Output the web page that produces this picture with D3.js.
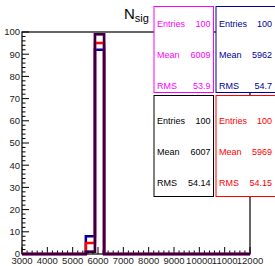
<!DOCTYPE html>
<html>
<head>
<meta charset="utf-8">
<script src="https://cdn.jsdelivr.net/npm/d3@7"></script>
<style>
  body { margin: 0; background: #fff; }
  svg { display: block; font-family: "Liberation Sans", Arial, sans-serif; }
</style>
</head>
<body>
<svg width="275" height="266"></svg>
<script>
let width = 275;
let height = 266;
let margin = { top: 32, right: 25, bottom: 12, left: 22 };

// histogram: 25 bins from 3000 to 12000
let xMin = 3000, xMax = 12000, nBins = 25;
let magentaCounts = [0,0,0,0,0,0,0,1,99,0,0,0,0,0,0,0,0,0,0,0,0,0,0,0,0];
let blackCounts   = [0,0,0,0,0,0,0,1,99,0,0,0,0,0,0,0,0,0,0,0,0,0,0,0,0];
let blueCounts    = [0,0,0,0,0,0,0,8,92,0,0,0,0,0,0,0,0,0,0,0,0,0,0,0,0];
let redCounts     = [0,0,0,0,0,0,0,5,95,0,0,0,0,0,0,0,0,0,0,0,0,0,0,0,0];

let xTicks = [3000,4000,5000,6000,7000,8000,9000,10000,11000,12000];
let yTicks = [0,10,20,30,40,50,60,70,80,90,100];

let statLabels = ["Entries", "Mean", "RMS"];
let magentaStats = ["100", "6009", "53.9"];
let blueStats    = ["100", "5962", "54.7"];
let blackStats   = ["100", "6007", "54.14"];
let redStats     = ["100", "5969", "54.15"];

let svg = d3.select("svg");

let x = d3.scaleLinear()
    .domain([xMin, xMax])
    .range([margin.left, width - margin.right]);

let y = d3.scaleLinear()
    .domain([0, 100])
    .range([height - margin.bottom, margin.top]);

let binW = (xMax - xMin) / nBins;

function stepPath(counts) {
    let pts = [];
    pts.push([xMin, 0]);
    counts.forEach(function (c, i) {
        pts.push([xMin + i * binW, c]);
        pts.push([xMin + (i + 1) * binW, c]);
    });
    pts.push([xMax, 0]);
    return d3.line().x(d => x(d[0])).y(d => y(d[1]))(pts);
}

// frame
svg.append("rect")
    .attr("x", x(xMin)).attr("y", y(100))
    .attr("width", x(xMax) - x(xMin)).attr("height", y(0) - y(100))
    .attr("fill", "none").attr("stroke", "#000").attr("stroke-width", 1.2);

// minor ticks
let yMinor = d3.range(0, 100.1, 2);
svg.append("g").selectAll("line").data(yMinor).join("line")
    .attr("x1", x(xMin)).attr("x2", d => x(xMin) + (d % 10 == 0 ? 7 : 3.5))
    .attr("y1", d => y(d)).attr("y2", d => y(d))
    .attr("stroke", "#000").attr("stroke-width", 1);

let xMinor = d3.range(xMin, xMax + 1, 200);
svg.append("g").selectAll("line").data(xMinor).join("line")
    .attr("x1", d => x(d)).attr("x2", d => x(d))
    .attr("y1", y(0)).attr("y2", d => y(0) - (d % 1000 == 0 ? 7 : 3.5))
    .attr("stroke", "#000").attr("stroke-width", 1);

// tick labels
svg.append("g").selectAll("text").data(yTicks).join("text")
    .attr("x", x(xMin) - 2).attr("y", d => y(d))
    .attr("dy", "0.35em")
    .attr("text-anchor", "end")
    .attr("font-size", 9.5)
    .attr("fill", "#222")
    .text(d => d);

svg.append("g").selectAll("text").data(xTicks).join("text")
    .attr("x", d => x(d)).attr("y", y(0) + 10)
    .attr("text-anchor", "middle")
    .attr("font-size", 9.5)
    .attr("fill", "#222")
    .text(d => d);

// histograms
let hists = [
    { counts: blueCounts, color: "#000099", w: 2.5, op: 1 },
    { counts: redCounts, color: "#ff0000", w: 2.5, op: 1 },
    { counts: magentaCounts, color: "#ff00ff", w: 2.5, op: 1 },
    { counts: blackCounts, color: "#000000", w: 2.5, op: 0.8 }
];
hists.forEach(function (h) {
    svg.append("path")
        .attr("d", stepPath(h.counts))
        .attr("fill", "none")
        .attr("stroke", h.color)
        .attr("stroke-width", h.w)
        .attr("stroke-opacity", h.op);
});

// title
let title = svg.append("text")
    .attr("x", 124).attr("y", 18.5)
    .attr("fill", "#000");
title.append("tspan").attr("font-size", 15).text("N");
title.append("tspan").attr("font-size", 11).attr("dy", 3).text("sig");

// stat boxes
let boxes = [
    { x0: 154, y0: 6.5, x1: 213.5, y1: 92.5, color: "#ff00ff", vals: magentaStats },
    { x0: 216, y0: 6.5, x1: 280, y1: 92.5, color: "#000099", vals: blueStats },
    { x0: 154, y0: 95.5, x1: 213.5, y1: 196.5, color: "#000000", vals: blackStats },
    { x0: 216, y0: 95.5, x1: 280, y1: 196.5, color: "#ff0000", vals: redStats }
];
boxes.forEach(function (b) {
    let g = svg.append("g");
    g.append("rect")
        .attr("x", b.x0).attr("y", b.y0)
        .attr("width", b.x1 - b.x0).attr("height", b.y1 - b.y0)
        .attr("fill", "#fff").attr("stroke", b.color).attr("stroke-width", 1);
    let mid = (b.y0 + b.y1) / 2 + 5.5;
    statLabels.forEach(function (lab, i) {
        let cy = mid + (i - 1) * 31;
        g.append("text")
            .attr("x", b.x0 + 3).attr("y", cy).attr("dy", "0.35em")
            .attr("font-size", 9).attr("fill", b.color)
            .text(lab);
        g.append("text")
            .attr("x", Math.min(b.x1, 275) - 3).attr("y", cy).attr("dy", "0.35em")
            .attr("text-anchor", "end")
            .attr("font-size", 9).attr("fill", b.color)
            .text(b.vals[i]);
    });
});
</script>
</body>
</html>
